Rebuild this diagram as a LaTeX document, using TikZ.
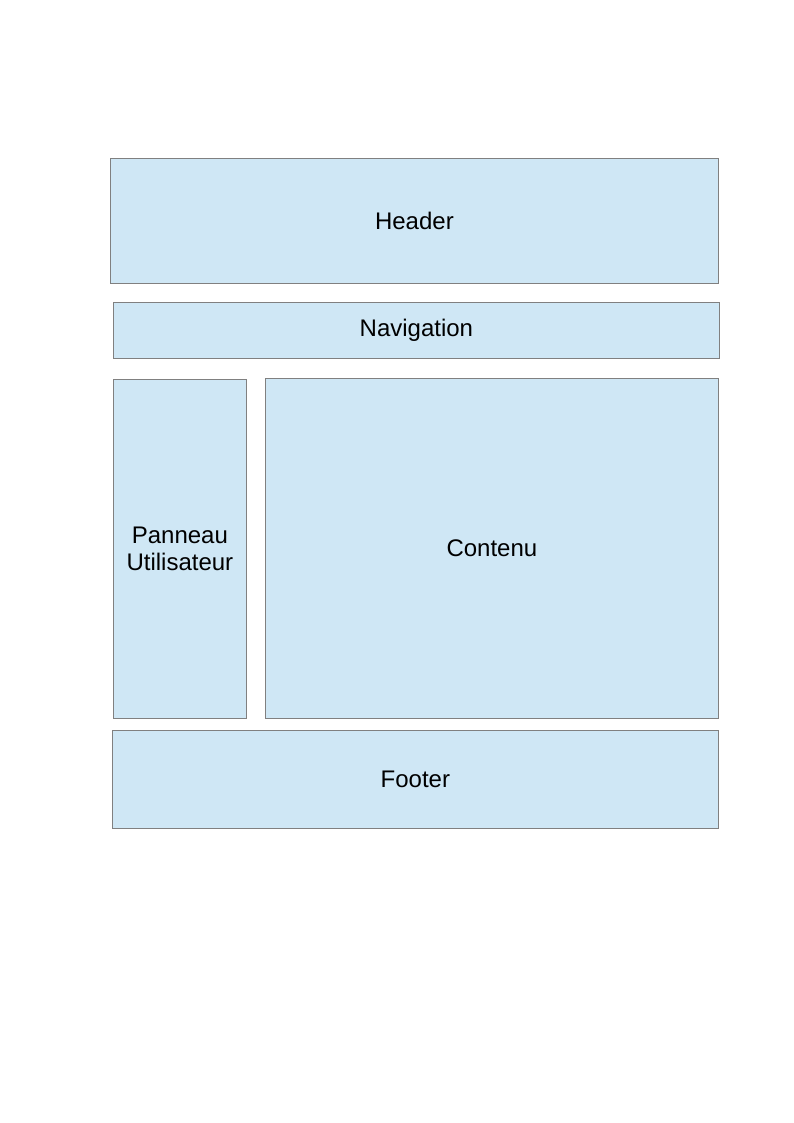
\documentclass[tikz,border=0pt]{standalone}
\usepackage{fontspec}
\setmainfont{Liberation Sans}
\usepackage{tikz}
\usetikzlibrary{positioning}
\definecolor{zonefill}{HTML}{CFE7F5}
\definecolor{zoneline}{HTML}{808080}
\tikzset{
    zone/.style={rectangle, draw=zoneline, line width=0.8pt, fill=zonefill, align=center, anchor=north west, inner sep=0pt, font=\fontsize{24}{27}\selectfont}
}
\begin{document}
\begin{tikzpicture}[x=1pt, y=-1pt]

    % Page
    \useasboundingbox (0,0) rectangle (794,1123);

    % Zones
    \node (header) [zone, minimum width=608pt, minimum height=125pt] at (110,158) {Header};
    \node (nav) [zone, minimum width=606pt, minimum height=56pt] at (113,302) {Navigation};
    \node (panneau) [zone, minimum width=133pt, minimum height=339pt] at (113,379) {Panneau\\Utilisateur};
    \node (contenu) [zone, minimum width=453pt, minimum height=340pt] at (265,378) {Contenu};
    \node (footer) [zone, minimum width=606pt, minimum height=98pt] at (112,730) {Footer};

\end{tikzpicture}
\end{document}
